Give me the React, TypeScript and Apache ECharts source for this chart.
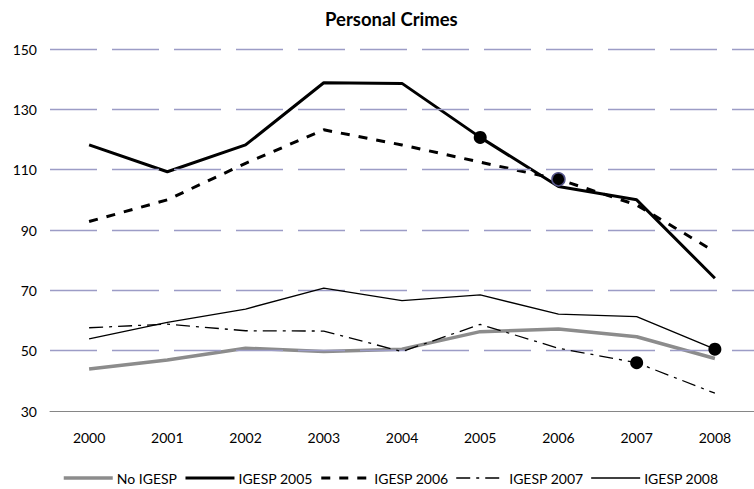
import React, { useEffect, useRef } from "react";
import * as echarts from "echarts";

const years = ["2000", "2001", "2002", "2003", "2004", "2005", "2006", "2007", "2008"];
const noIgesp = [43.9, 46.9, 50.8, 49.7, 50.5, 56.3, 57.2, 54.6, 47.4];
const igesp2005 = [118.2, 109.3, 118.2, 138.8, 138.6, 120.7, 104.4, 100.0, 74.0];
const igesp2006 = [92.8, 100.0, 112.1, 123.2, 118.2, 112.5, 106.8, 98.3, 82.8];
const igesp2007 = [57.6, 58.8, 56.6, 56.5, 49.7, 58.7, 50.8, 46.0, 35.9];
const igesp2008 = [53.9, 59.4, 63.8, 70.7, 66.6, 68.5, 62.1, 61.3, 50.5];
const yTicks = [30, 50, 70, 90, 110, 130, 150];

const FONT = "Lato, 'Open Sans', sans-serif";

function withMarker(values: number[], idx: number, border: string) {
  return values.map((v, i) =>
    i === idx
      ? {
          value: v,
          symbol: "circle",
          symbolSize: 13,
          itemStyle: { color: "#000", borderColor: border, borderWidth: border === "#000" ? 0 : 1.5 },
        }
      : v
  );
}

export default function App() {
  const ref = useRef<HTMLDivElement>(null);
  useEffect(() => {
    if (!ref.current) return;
    const chart = echarts.init(ref.current, undefined, { renderer: "svg" });
    chart.setOption({
      animation: false,
      backgroundColor: "#fff",
      textStyle: { fontFamily: FONT },
      title: {
        text: "Personal Crimes",
        left: 325,
        top: 9,
        padding: 0,
        textStyle: { fontFamily: FONT, fontSize: 18.5, fontWeight: "bold", color: "#000" },
      },
      legend: {
        left: 62,
        top: 471,
        padding: 0,
        itemWidth: 49,
        itemHeight: 14,
        itemGap: 7,
        textStyle: { fontFamily: FONT, fontSize: 14, lineHeight: 14, color: "#000", padding: [0, 0, 0, -1] },
        itemStyle: { opacity: 0 },
        lineStyle: { width: "inherit", type: "inherit", color: "inherit" },
        data: ["No IGESP", "IGESP 2005", "IGESP 2006", "IGESP 2007", "IGESP 2008"],
      },
      grid: { left: 50, top: 49, width: 722, height: 362 },
      xAxis: {
        type: "category",
        data: years,
        boundaryGap: true,
        axisLine: { show: true, lineStyle: { color: "#868686", width: 1 } },
        axisTick: { show: false },
        axisLabel: { fontFamily: FONT, fontSize: 14, color: "#000", margin: 19 },
        splitLine: { show: false },
      },
      yAxis: {
        type: "value",
        min: 30,
        max: 150,
        interval: 10,
        axisLine: { show: false },
        axisTick: { show: false },
        splitLine: { show: false },
        axisLabel: {
          fontFamily: FONT,
          fontSize: 14,
          color: "#000",
          margin: 13,
          formatter: (v: number) => (yTicks.includes(v) ? String(v) : ""),
        },
      },
      series: [
        {
          name: "No IGESP",
          type: "line",
          data: noIgesp,
          symbol: "none",
          lineStyle: { color: "#8c8c8c", width: 3.5 },
          itemStyle: { color: "#8c8c8c" },
          z: 2,
          markLine: {
            silent: true,
            symbol: "none",
            label: { show: false },
            lineStyle: { color: "#9c9cc6", width: 1.3, type: [47, 15] },
            data: yTicks.filter((v) => v > 30).map((v) => ({ yAxis: v })),
          },
        },
        {
          name: "IGESP 2005",
          type: "line",
          data: withMarker(igesp2005, 5, "#000"),
          symbol: "none",
          lineStyle: { color: "#000", width: 3 },
          itemStyle: { color: "#000" },
          z: 3,
        },
        {
          name: "IGESP 2006",
          type: "line",
          data: withMarker(igesp2006, 6, "#55558a"),
          symbol: "none",
          lineStyle: { color: "#000", width: 3, type: [9, 9] },
          itemStyle: { color: "#000" },
          z: 4,
        },
        {
          name: "IGESP 2007",
          type: "line",
          data: withMarker(igesp2007, 7, "#000"),
          symbol: "none",
          lineStyle: { color: "#000", width: 1.3, type: [14, 6, 3, 6] },
          itemStyle: { color: "#000" },
          z: 5,
        },
        {
          name: "IGESP 2008",
          type: "line",
          data: withMarker(igesp2008, 8, "#000"),
          symbol: "none",
          lineStyle: { color: "#000", width: 1.3 },
          itemStyle: { color: "#000" },
          z: 6,
        },
      ],
    });
    return () => chart.dispose();
  }, []);
  return (
    <div
      ref={ref}
      style={{ position: "fixed", left: 0, top: 0, width: 754, height: 489, background: "#fff" }}
    />
  );
}
